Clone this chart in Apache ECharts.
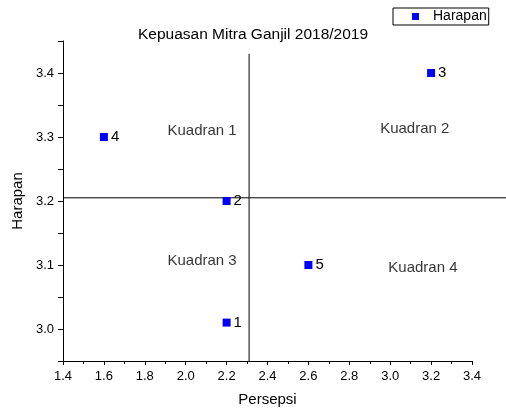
<!DOCTYPE html>
<html>
<head>
<meta charset="utf-8">
<script src="https://cdn.jsdelivr.net/npm/echarts@6/dist/echarts.min.js"></script>
<style>
  html, body { margin: 0; padding: 0; background: #fff; }
  #chart { width: 506px; height: 412px; }
</style>
</head>
<body>
<div id="chart"></div>
<script>
// data
var pointNames = ['1', '2', '3', '4', '5'];
var persepsi = [2.2, 2.2, 3.2, 1.6, 2.6];
var harapan = [3.01, 3.2, 3.4, 3.3, 3.1];

var quadrantNames = ['Kuadran 1', 'Kuadran 2', 'Kuadran 3', 'Kuadran 4'];
var quadrantX = [2.08, 3.12, 2.08, 3.16];
var quadrantY = [3.31, 3.313, 3.107, 3.096];

// divider lines (vertical at persepsi, horizontal at harapan)
var dividerX = 2.31;
var dividerY = 3.205;
var vLineYs = [2.95, 3.43];

var xTicks = { min: 1.4, max: 3.4, step: 0.2 };
var yTicks = { min: 2.95, max: 3.45, step: 0.05 };

var font = 'Liberation Sans, Arial, sans-serif';

var points = [];
for (var i = 0; i < persepsi.length; i++) {
  points.push({ name: pointNames[i], value: [persepsi[i], harapan[i]] });
}
var quadrants = [];
for (var i = 0; i < quadrantNames.length; i++) {
  quadrants.push({ name: quadrantNames[i], value: [quadrantX[i], quadrantY[i]] });
}

var myChart = echarts.init(document.getElementById('chart'));
myChart.setOption({
  animation: false,
  textStyle: { fontFamily: font },
  title: {
    text: 'Kepuasan Mitra Ganjil 2018/2019',
    left: 'center',
    top: 27,
    padding: 0,
    textStyle: { fontSize: 15.5, fontWeight: 'normal', color: '#000', fontFamily: font }
  },
  legend: {
    data: ['Harapan'],
    left: 393,
    top: 8,
    padding: [1, 2, 1, 19],
    borderColor: '#000',
    borderWidth: 1,
    borderRadius: 0,
    itemWidth: 7,
    itemHeight: 7,
    textStyle: { fontSize: 14, color: '#000', fontFamily: font, lineHeight: 15, padding: [0, 0, 0, 9] }
  },
  grid: { left: 63, right: 34, top: 41, bottom: 49 },
  xAxis: {
    type: 'value',
    min: xTicks.min,
    max: xTicks.max,
    interval: xTicks.step,
    name: 'Persepsi',
    nameLocation: 'middle',
    nameGap: 31,
    nameTextStyle: { fontSize: 15, color: '#000', fontFamily: font },
    axisLine: { show: true, onZero: false, lineStyle: { color: '#000', width: 1 } },
    axisTick: { show: true, length: 4, lineStyle: { color: '#000' } },
    minorTick: { show: true, splitNumber: 2, length: 3, lineStyle: { color: '#000' } },
    splitLine: { show: false },
    axisLabel: {
      fontSize: 13, color: '#000', margin: 9, fontFamily: font,
      formatter: function (v) { return v.toFixed(1); }
    }
  },
  yAxis: {
    type: 'value',
    min: yTicks.min,
    max: yTicks.max,
    interval: yTicks.step,
    name: 'Harapan',
    nameLocation: 'middle',
    nameGap: 37,
    nameTextStyle: { fontSize: 15, color: '#000', fontFamily: font },
    axisLine: { show: true, onZero: false, lineStyle: { color: '#000', width: 1 } },
    axisTick: { show: true, length: 5, lineStyle: { color: '#000' } },
    splitLine: { show: false },
    axisLabel: {
      fontSize: 13, color: '#000', margin: 9, fontFamily: font,
      formatter: function (v) {
        return Math.round(v * 20) % 2 === 0 ? v.toFixed(1) : '';
      }
    }
  },
  series: [
    {
      name: 'Harapan',
      type: 'scatter',
      symbol: 'rect',
      symbolSize: 8,
      itemStyle: { color: '#0000ff', opacity: 1 },
      label: {
        show: true,
        position: 'right',
        distance: 3,
        formatter: '{b}',
        fontSize: 15,
        color: '#000',
        fontFamily: font
      },
      data: points,
      z: 5
    },
    {
      name: 'kuadran',
      type: 'scatter',
      symbolSize: 0,
      silent: true,
      label: {
        show: true,
        position: 'inside',
        formatter: '{b}',
        fontSize: 15,
        color: '#000',
        fontFamily: font
      },
      data: quadrants
    },
    {
      name: 'vline',
      type: 'line',
      clip: false,
      showSymbol: false,
      symbol: 'none',
      silent: true,
      lineStyle: { color: '#000', width: 1 },
      data: [[dividerX, vLineYs[0]], [dividerX, vLineYs[1]]]
    }
  ]
});

// the horizontal divider runs past the plot to the right edge of the picture
var hStart = myChart.convertToPixel({ gridIndex: 0 }, [xTicks.min, dividerY]);
myChart.setOption({
  graphic: [{
    type: 'line',
    silent: true,
    shape: { x1: hStart[0], y1: hStart[1], x2: myChart.getWidth(), y2: hStart[1] },
    style: { stroke: '#000', lineWidth: 1 },
    z: 3
  }]
});
</script>
</body>
</html>
